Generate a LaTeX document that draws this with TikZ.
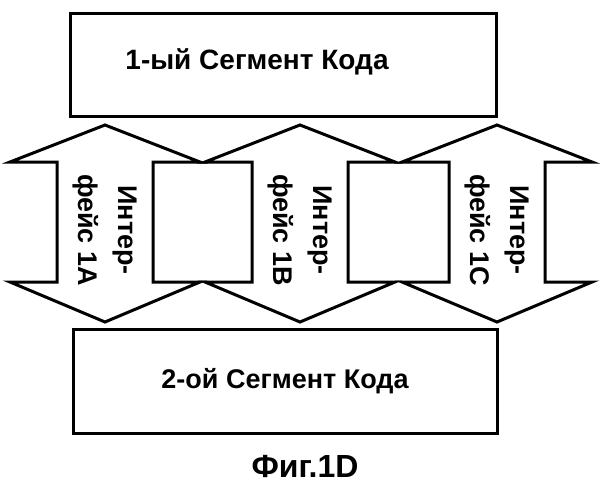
\documentclass[tikz,border=0pt]{standalone}
\usepackage{fontspec}
\setmainfont{Liberation Sans}
\begin{document}
\begin{tikzpicture}[x=1pt,y=-1pt,
    segbox/.style={draw, line width=3pt},
    iface/.style={draw, line width=3pt, line join=miter},
    lbl/.style={font=\bfseries\fontsize{27}{40}\selectfont, align=center, rotate=-90}]
    \useasboundingbox (0,0) rectangle (609,500);
    \draw[segbox] (70,14) rectangle (496,116);
    \node at (257, 62) (seg1) {\bfseries\fontsize{28}{32}\selectfont 1-ый Сегмент Кода};
    \draw[segbox] (73,329) rectangle (497,433);
    \node at (285, 381) (seg2) {\bfseries\fontsize{27}{32}\selectfont 2-ой Сегмент Кода};
    % interface arrows
    \foreach \c/\n in {105/A, 300/B, 497/C} {
        \draw[iface] (\c,125) -- (\c+95,162) -- (\c+48,162) -- (\c+48,282) -- (\c+95,282)
            -- (\c,322) -- (\c-95,282) -- (\c-48,282) -- (\c-48,162) -- (\c-95,162) -- cycle;
        \node[lbl] at (\c, 230) (if\n) {Интер-\\фейс 1\n};
    }
    \node at (305, 466) (cap) {\bfseries\fontsize{32}{36}\selectfont Фиг.1D};
\end{tikzpicture}
\end{document}
